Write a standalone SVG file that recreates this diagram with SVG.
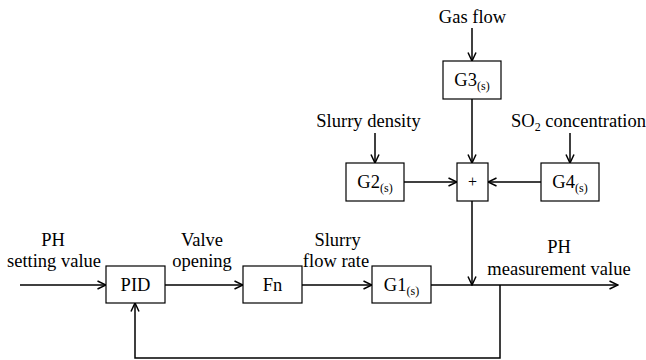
<svg xmlns="http://www.w3.org/2000/svg" width="646" height="360" viewBox="0 0 646 360">
<defs>
<marker id="arr" viewBox="0 0 10 10" refX="9.5" refY="5" markerWidth="10" markerHeight="10" markerUnits="userSpaceOnUse" orient="auto">
<path d="M1,1 L9.5,5 L1,9" fill="none" stroke="#000" stroke-width="1.5"/>
</marker>
<style>
.box{fill:#fff;stroke:#000;stroke-width:1.2}
.ar{fill:none;stroke:#000;stroke-width:1.5;marker-end:url(#arr)}
.c{text-anchor:middle}
.sub{font-size:12px}
</style>
</defs>
<rect width="646" height="360" fill="#fff"/>
<g id="connectors">
<line class="ar" x1="472" y1="28" x2="472" y2="61"/>
<line class="ar" x1="472" y1="99" x2="472" y2="163"/>
<line class="ar" x1="375" y1="133" x2="375" y2="163"/>
<line class="ar" x1="570" y1="133" x2="570" y2="163"/>
<line class="ar" x1="404" y1="182" x2="457" y2="182"/>
<line class="ar" x1="541" y1="182" x2="488" y2="182"/>
<line class="ar" x1="472" y1="201" x2="472" y2="285"/>
<line class="ar" x1="20" y1="285" x2="106" y2="285"/>
<line class="ar" x1="165" y1="285" x2="243" y2="285"/>
<line class="ar" x1="302" y1="285" x2="372" y2="285"/>
<line class="ar" x1="431" y1="285" x2="618" y2="285"/>
<polyline class="ar" points="500,285 500,358 135,358 135,303"/>
</g>
<g font-family="Liberation Serif, Times New Roman, serif" font-size="18.5" fill="#000">
<g id="G3">
<rect class="box" x="443" y="61" width="58" height="38"/>
<text x="472" y="86" class="c">G3<tspan class="sub" dy="4">(s)</tspan></text>
</g>
<g id="G2">
<rect class="box" x="346" y="163" width="58" height="38"/>
<text x="375" y="188" class="c">G2<tspan class="sub" dy="4">(s)</tspan></text>
</g>
<g id="G4">
<rect class="box" x="541" y="163" width="58" height="38"/>
<text x="570" y="188" class="c">G4<tspan class="sub" dy="4">(s)</tspan></text>
</g>
<g id="sum">
<rect class="box" x="457" y="163" width="31" height="38"/>
<text x="472.5" y="187" class="c" font-size="16">+</text>
</g>
<g id="PID">
<rect class="box" x="106" y="266" width="59" height="37"/>
<text x="135.5" y="291" class="c">PID</text>
</g>
<g id="Fn">
<rect class="box" x="243" y="266" width="59" height="37"/>
<text x="272.5" y="291" class="c">Fn</text>
</g>
<g id="G1">
<rect class="box" x="372" y="266" width="59" height="37"/>
<text x="401.5" y="291" class="c">G1<tspan class="sub" dy="4">(s)</tspan></text>
</g>
<g id="labels">
<text x="472.5" y="23" class="c">Gas flow</text>
<text x="368.5" y="127" class="c">Slurry density</text>
<text x="511" y="127">SO<tspan class="sub" dy="4">2</tspan><tspan dy="-4"> concentration</tspan></text>
<text x="53" y="246" class="c">PH</text>
<text x="54" y="267" class="c">setting value</text>
<text x="202" y="246" class="c">Valve</text>
<text x="202" y="267" class="c">opening</text>
<text x="337.5" y="246" class="c">Slurry</text>
<text x="336" y="267" class="c">flow rate</text>
<text x="559" y="253" class="c">PH</text>
<text x="559" y="275" class="c">measurement value</text>
</g>
</g>
</svg>
